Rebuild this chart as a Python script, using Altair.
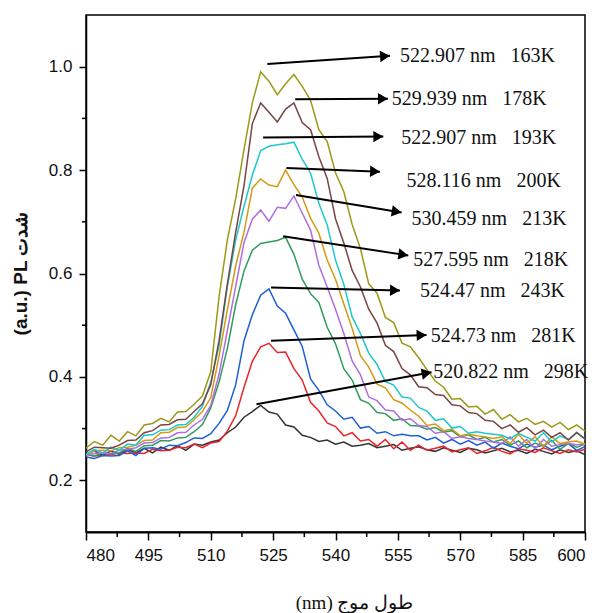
import math
import altair as alt
import pandas as pd

wavelength = [480 + 2 * i for i in range(61)]

s163 = [.262, .275, .268, .287, .276, .294, .286, .307, .310, .320,
        .313, .332, .333, .347, .363, .410, .555, .665, .745, .840,
        .930, .990, .972, .946, .967, .985, .962, .935, .878, .855,
        .795, .758, .695, .648, .580, .562, .515, .505, .465, .458,
        .437, .414, .392, .380, .357, .358, .342, .343, .328, .337,
        .318, .327, .313, .320, .308, .314, .303, .312, .298, .307,
        .295]
s178 = [.255, .264, .263, .262, .268, .277, .278, .292, .296, .307,
        .308, .317, .318, .333, .348, .385, .470, .580, .680, .770,
        .890, .930, .912, .893, .918, .930, .892, .878, .826, .784,
        .706, .659, .606, .574, .531, .504, .461, .449, .416, .404,
        .381, .379, .366, .364, .346, .344, .331, .329, .316, .314,
        .300, .307, .293, .302, .288, .297, .283, .292, .278, .292,
        .280]
s193 = [.250, .260, .253, .264, .258, .270, .268, .287, .288, .297,
        .298, .307, .308, .322, .343, .390, .460, .575, .665, .730,
        .790, .838, .846, .849, .851, .854, .821, .794, .736, .694,
        .626, .579, .516, .484, .446, .424, .391, .384, .361, .359,
        .341, .334, .316, .319, .301, .304, .291, .294, .291, .289,
        .287, .280, .291, .283, .276, .292, .274, .286, .279, .293,
        .280]
s200 = [.250, .257, .258, .257, .263, .264, .268, .277, .278, .292,
        .293, .302, .303, .317, .333, .360, .440, .530, .615, .680,
        .765, .783, .771, .768, .800, .772, .748, .707, .678, .626,
        .589, .541, .494, .441, .419, .386, .379, .356, .349, .336,
        .324, .306, .309, .296, .299, .286, .289, .286, .284, .281,
        .284, .271, .289, .271, .284, .266, .284, .271, .274, .276,
        .270]
s213 = [.248, .252, .253, .252, .258, .260, .263, .272, .273, .282,
        .283, .292, .293, .307, .318, .345, .405, .490, .575, .660,
        .705, .723, .701, .728, .726, .750, .717, .684, .616, .574,
        .531, .484, .431, .404, .361, .354, .336, .334, .316, .319,
        .306, .304, .291, .294, .281, .284, .281, .279, .276, .274,
        .271, .284, .266, .279, .261, .279, .266, .269, .271, .269,
        .270]
s218 = [.250, .247, .253, .252, .253, .262, .256, .267, .268, .277,
        .276, .282, .283, .294, .308, .340, .390, .455, .540, .605,
        .645, .658, .661, .664, .670, .637, .589, .561, .544, .496,
        .464, .416, .394, .356, .349, .331, .329, .316, .319, .306,
        .305, .299, .302, .293, .296, .284, .288, .279, .283, .274,
        .279, .268, .276, .263, .272, .266, .277, .260, .271, .264,
        .270]
s243 = [.245, .242, .248, .247, .248, .257, .248, .262, .263, .260,
        .268, .267, .273, .282, .281, .290, .310, .335, .385, .470,
        .520, .558, .570, .537, .523, .491, .459, .396, .374, .346,
        .334, .318, .322, .301, .304, .291, .294, .286, .289, .286,
        .286, .278, .283, .272, .279, .270, .277, .268, .274, .262,
        .272, .266, .261, .270, .264, .268, .259, .266, .271, .258,
        .265]
s281 = [.250, .247, .248, .250, .253, .252, .253, .252, .260, .257,
        .258, .264, .263, .270, .263, .272, .275, .295, .325, .380,
        .430, .458, .465, .447, .448, .416, .394, .351, .334, .311,
        .304, .286, .292, .276, .279, .266, .279, .261, .274, .258,
        .268, .258, .262, .266, .255, .259, .263, .252, .257, .264,
        .256, .251, .261, .258, .254, .263, .257, .252, .259, .255,
        .260]
s298 = [.250, .257, .248, .257, .250, .260, .253, .262, .253, .264,
        .258, .267, .258, .270, .268, .274, .278, .292, .303, .322,
        .333, .345, .332, .328, .307, .303, .287, .283, .275, .278,
        .270, .274, .266, .268, .271, .263, .266, .269, .258, .262,
        .265, .259, .256, .263, .258, .254, .262, .259, .253, .257,
        .262, .255, .258, .252, .260, .256, .251, .259, .254, .257,
        .250]

series_names = ["298K", "281K", "243K", "218K", "213K", "200K", "193K", "178K", "163K"]
series_values = [s298, s281, s243, s218, s213, s200, s193, s178, s163]
series_colors = ["#333333", "#e8262a", "#1d5fd4", "#2f9c5c", "#b06de0",
                 "#d39a12", "#1cc8cc", "#7a4444", "#9a9a16"]

# annotation arrows (start at peak, end at arrow tip) and labels
ann_text = ["522.907 nm\u00a0\u00a0\u00a0163K", "529.939 nm\u00a0\u00a0\u00a0178K",
            "522.907 nm\u00a0\u00a0\u00a0193K", "528.116 nm\u00a0\u00a0\u00a0200K",
            "530.459 nm\u00a0\u00a0\u00a0213K", "527.595 nm\u00a0\u00a0\u00a0218K",
            "524.47 nm\u00a0\u00a0\u00a0243K", "524.73 nm\u00a0\u00a0\u00a0281K",
            "520.822 nm\u00a0\u00a0\u00a0298K"]
arrow_x0 = [523.6, 530.3, 522.6, 528.2, 530.5, 527.4, 524.5, 524.5, 521.0]
arrow_y0 = [1.005, 0.937, 0.863, 0.804, 0.752, 0.672, 0.573, 0.470, 0.347]
arrow_x1 = [553.1, 552.6, 551.5, 550.7, 555.9, 557.5, 555.5, 561.9, 563.1]
arrow_y1 = [1.021, 0.938, 0.865, 0.797, 0.718, 0.635, 0.567, 0.481, 0.409]
text_x = [555.5, 553.5, 555.8, 557.1, 558.3, 558.7, 560.3, 562.9, 563.5]
text_y = [1.021, 0.938, 0.862, 0.779, 0.705, 0.626, 0.567, 0.480, 0.409]

x_major = [480, 495, 510, 525, 540, 555, 570, 585, 600]
x_minor = [487.5, 502.5, 517.5, 532.5, 547.5, 562.5, 577.5, 592.5]
y_major = [0.2, 0.4, 0.6, 0.8, 1.0]
y_minor = [0.3, 0.5, 0.7, 0.9]

W, H = 499, 517
XD, YD = [480, 600], [0.1, 1.1]
px_x = W / (XD[1] - XD[0])
px_y = H / (YD[1] - YD[0])

rows = []
for name, vals in zip(series_names, series_values):
    for wl, v in zip(wavelength, vals):
        rows.append({"wl": wl, "val": v, "series": name})
df = pd.DataFrame(rows)

arr = []
for i in range(len(ann_text)):
    dx = (arrow_x1[i] - arrow_x0[i]) * px_x
    dy = -(arrow_y1[i] - arrow_y0[i]) * px_y
    ang = math.degrees(math.atan2(dy, dx)) % 360
    L = math.hypot(dx, dy)
    back = 5.0
    hx = arrow_x1[i] - (dx / L) * back / px_x
    hy = arrow_y1[i] + (dy / L) * back / px_y
    arr.append({"x0": arrow_x0[i], "y0": arrow_y0[i], "x1": arrow_x1[i], "y1": arrow_y1[i],
                "hx": hx, "hy": hy, "ang": ang, "tx": text_x[i], "ty": text_y[i],
                "label": ann_text[i]})
adf = pd.DataFrame(arr)

xscale = alt.Scale(domain=XD, nice=False, zero=False)
yscale = alt.Scale(domain=YD, nice=False, zero=False)

x_axis = alt.Axis(values=x_major, format="d", title="(nm) طول موج", grid=False,
                  tickSize=8, tickWidth=1.5, domainWidth=2, labelPadding=7,
                  labelFontSize=17, labelFont="Liberation Sans", labelColor="#111",
                  titleFont="Liberation Serif", titleFontSize=19, titleFontWeight="normal",
                  titleColor="#111", titleX=268, titleY=70, titleBaseline="middle",
                  orient="bottom")
y_axis = alt.Axis(values=y_major, format=".1f", title="(a.u.) PL شدت", grid=False,
                  tickSize=7, tickWidth=1.5, domainWidth=1.5, labelPadding=7,
                  labelFontSize=17, labelFont="Liberation Sans", labelColor="#111",
                  titleFont="Liberation Sans", titleFontSize=19, titleFontWeight="bold",
                  titleColor="#111", titleX=-66, titleY=258, titleBaseline="middle",
                  titleAngle=270, orient="left")

lines = alt.Chart(df).mark_line(strokeWidth=1.5, clip=True).encode(
    x=alt.X("wl:Q", scale=xscale, axis=x_axis),
    y=alt.Y("val:Q", scale=yscale, axis=y_axis),
    color=alt.Color("series:N", scale=alt.Scale(domain=series_names, range=series_colors), legend=None),
)

xminor_ticks = alt.Chart(pd.DataFrame({"xm": x_minor})).mark_rule(
    color="black", strokeWidth=1.5, clip=False).encode(
    x=alt.X("xm:Q", scale=xscale, axis=None),
    y=alt.value(H), y2=alt.value(H + 5),
)
yminor_ticks = alt.Chart(pd.DataFrame({"ym": y_minor})).mark_rule(
    color="black", strokeWidth=1.5, clip=False).encode(
    y=alt.Y("ym:Q", scale=yscale, axis=None),
    x=alt.value(0), x2=alt.value(-4),
)

rules = alt.Chart(adf).mark_rule(color="black", strokeWidth=2).encode(
    x=alt.X("x0:Q", scale=xscale, axis=None), y=alt.Y("y0:Q", scale=yscale, axis=None),
    x2="x1:Q", y2="y1:Q",
)

heads = alt.Chart(adf).mark_point(shape="triangle-right", filled=True, color="black",
                                  opacity=1, size=130).encode(
    x=alt.X("hx:Q", scale=xscale, axis=None), y=alt.Y("hy:Q", scale=yscale, axis=None),
    angle=alt.Angle("ang:Q", scale=None),
)

texts = alt.Chart(adf).mark_text(align="left", baseline="middle", font="Liberation Serif",
                                 fontSize=20, color="#111").encode(
    x=alt.X("tx:Q", scale=xscale, axis=None), y=alt.Y("ty:Q", scale=yscale, axis=None),
    text="label:N",
)

chart = alt.layer(lines, xminor_ticks, yminor_ticks, rules, heads, texts).resolve_axis(
    x="independent", y="independent"
).properties(
    width=W, height=H, autosize="none",
    padding={"left": 86, "top": 15, "right": 15, "bottom": 81},
).configure_view(stroke="black", strokeWidth=1.5).configure_axis(
    domainColor="black", tickColor="black"
)

chart.save("out.html", embed_options={"renderer": "svg", "actions": False})
